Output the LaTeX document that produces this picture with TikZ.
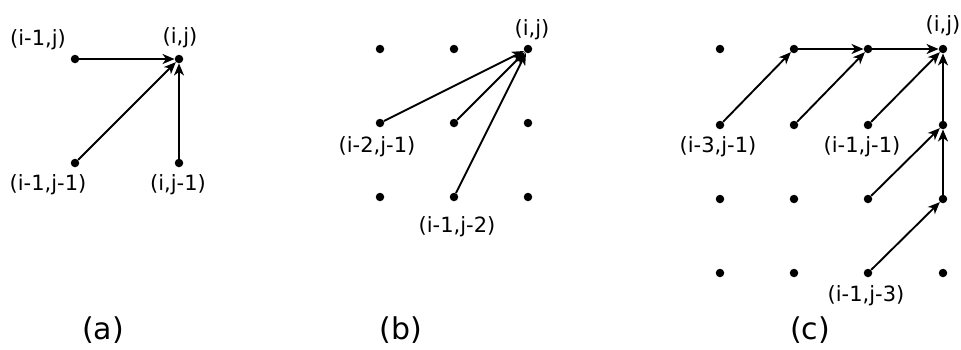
\documentclass[tikz,border=0pt]{standalone}
\usepackage{fontspec}
\setmainfont{DejaVu Sans}
\usetikzlibrary{arrows.meta}
\begin{document}
\begin{tikzpicture}[x=1pt,y=-1pt,
  dot/.style={circle,fill=black,inner sep=0pt,minimum size=8.5pt},
  lbl/.style={inner sep=0pt,font=\fontsize{21}{25}\selectfont},
  captxt/.style={inner sep=0pt,font=\fontsize{30}{34}\selectfont},
  arr/.style={line width=1.9pt,-{Stealth[length=12pt,width=10pt,inset=3.5pt]}}]
\useasboundingbox (0,0) rectangle (961,349);
% panel (a)
\node[dot] (a1) at (75,59) {};
\node[dot] (a2) at (179,59) {};
\node[dot] (a3) at (75,163) {};
\node[dot] (a4) at (179,163) {};
\draw[arr] (a1) -- (a2);
\draw[arr] (a3) -- (a2);
\draw[arr] (a4) -- (a2);
\node[lbl] (la1) at (38,40) {(i-1,j)};
\node[lbl] (la2) at (180,38) {(i,j)};
\node[lbl] (la3) at (48,185) {(i-1,j-1)};
\node[lbl] (la4) at (178,185) {(i,j-1)};
\node[captxt] (ca) at (103,330) {(a)};
% panel (b)
\foreach \i/\x in {1/380,2/454,3/528}{
  \foreach \j/\y in {1/49,2/123,3/197}{
    \node[dot] (b\i\j) at (\x,\y) {};
  }
}
\draw[arr] (b12) -- (b31);
\draw[arr] (b22) -- (b31);
\draw[arr] (b23) -- (b31);
\node[lbl] (lb1) at (532,30) {(i,j)};
\node[lbl] (lb2) at (377,147) {(i-2,j-1)};
\node[lbl] (lb3) at (457,227) {(i-1,j-2)};
\node[captxt] (cb) at (401,330) {(b)};
% panel (c)
\foreach \i/\x in {1/720,2/794,3/868,4/943}{
  \foreach \j/\y in {1/49,2/125,3/199,4/273}{
    \node[dot] (c\i\j) at (\x,\y) {};
  }
}
\draw[arr] (c12) -- (c21);
\draw[arr] (c22) -- (c31);
\draw[arr] (c32) -- (c41);
\draw[arr] (c33) -- (c42);
\draw[arr] (c34) -- (c43);
\draw[arr] (c21) -- (c31);
\draw[arr] (c31) -- (c41);
\draw[arr] (c43) -- (c42);
\draw[arr] (c42) -- (c41);
\node[lbl] (lc1) at (943,26) {(i,j)};
\node[lbl] (lc2) at (718,147) {(i-3,j-1)};
\node[lbl] (lc3) at (862,147) {(i-1,j-1)};
\node[lbl] (lc4) at (866,296) {(i-1,j-3)};
\node[captxt] (cc) at (810,330) {(c)};
\end{tikzpicture}
\end{document}
